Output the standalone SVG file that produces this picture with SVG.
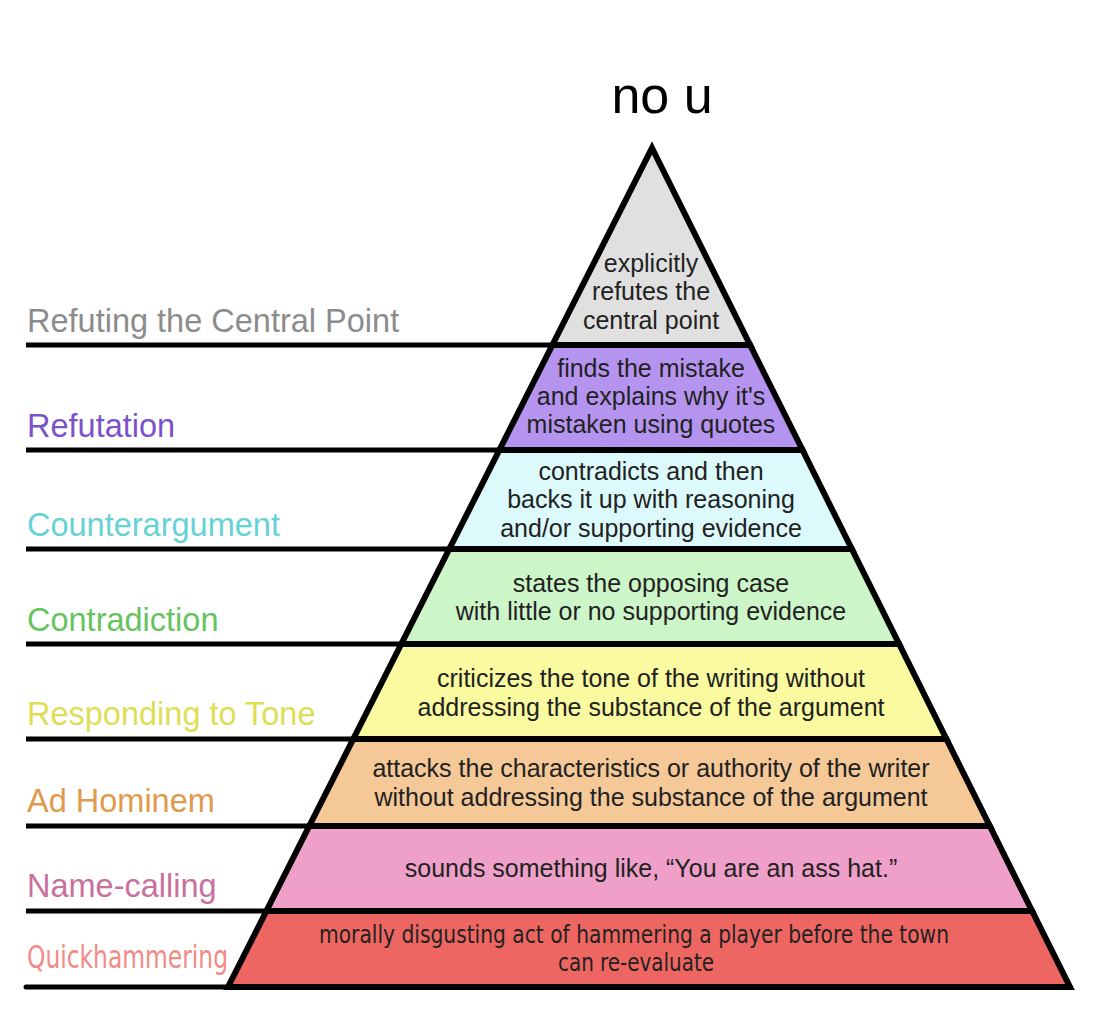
<svg xmlns="http://www.w3.org/2000/svg" width="1103" height="1017" viewBox="0 0 1103 1017">
<style>
.band{stroke:#000;stroke-width:6;stroke-linejoin:miter}
.t{font-family:"Liberation Sans",Arial,sans-serif;font-size:25px;fill:#222;text-anchor:middle}
.lbl{font-family:"Liberation Sans",Arial,sans-serif;font-size:32.5px}
.cond{font-family:"DejaVu Sans Condensed","DejaVu Sans",sans-serif;font-stretch:condensed}
.lead{stroke:#000;stroke-width:5;fill:none}
</style>
<rect width="1103" height="1017" fill="#fff"/>
<text x="662" y="113" font-family="Liberation Sans,Arial,sans-serif" font-size="52" fill="#000" text-anchor="middle">no u</text>

<g id="connectors">
<line class="lead" x1="26" y1="345" x2="552" y2="345"/>
<line class="lead" x1="26" y1="450" x2="499" y2="450"/>
<line class="lead" x1="26" y1="549" x2="449" y2="549"/>
<line class="lead" x1="26" y1="644" x2="401" y2="644"/>
<line class="lead" x1="26" y1="739" x2="353" y2="739"/>
<line class="lead" x1="26" y1="826" x2="309" y2="826"/>
<line class="lead" x1="26" y1="911" x2="266" y2="911"/>
<line class="lead" x1="26" y1="987" x2="228" y2="987" stroke-linecap="round"/>
</g>

<g id="level-refuting-central-point">
<polygon class="band" fill="#e0e0e0" points="652,148 750.1,345 552.4,345"/>
<text class="t" x="651" y="272">explicitly</text>
<text class="t" x="651" y="300">refutes the</text>
<text class="t" x="651" y="329">central point</text>
<text class="lbl" x="27" y="332" fill="#8c8c8c">Refuting the Central Point</text>
</g>

<g id="level-refutation">
<polygon class="band" fill="#b594f0" points="552.4,345 750.1,345 802.5,450 499.4,450"/>
<text class="t" x="651" y="377">finds the mistake</text>
<text class="t" x="651" y="405">and explains why it's</text>
<text class="t" x="651" y="433">mistaken using quotes</text>
<text class="lbl" x="27" y="437" fill="#7b52c9">Refutation</text>
</g>

<g id="level-counterargument">
<polygon class="band" fill="#dcf9fb" points="499.4,450 802.5,450 851.8,549 449.3,549"/>
<text class="t" x="651" y="480">contradicts and then</text>
<text class="t" x="651" y="508">backs it up with reasoning</text>
<text class="t" x="651" y="537">and/or supporting evidence</text>
<text class="lbl" x="27" y="536" fill="#66d2d6">Counterargument</text>
</g>

<g id="level-contradiction">
<polygon class="band" fill="#ccf5c8" points="449.3,549 851.8,549 899.1,644 401.3,644"/>
<text class="t" x="651" y="592">states the opposing case</text>
<text class="t" x="651" y="620">with little or no supporting evidence</text>
<text class="lbl" x="27" y="631" fill="#66c35e">Contradiction</text>
</g>

<g id="level-responding-to-tone">
<polygon class="band" fill="#fafaa0" points="401.3,644 899.1,644 946.4,739 353.3,739"/>
<text class="t" x="651" y="687">criticizes the tone of the writing without</text>
<text class="t" x="651" y="716">addressing the substance of the argument</text>
<text class="lbl" x="27" y="725" fill="#dede55">Responding to Tone</text>
</g>

<g id="level-ad-hominem">
<polygon class="band" fill="#f5c898" points="353.3,739 946.4,739 989.8,826 309.3,826"/>
<text class="t" x="651" y="777">attacks the characteristics or authority of the writer</text>
<text class="t" x="651" y="806">without addressing the substance of the argument</text>
<text class="lbl" x="27" y="812" fill="#e09a4e">Ad Hominem</text>
</g>

<g id="level-name-calling">
<polygon class="band" fill="#efa0c9" points="309.3,826 989.8,826 1032.1,911 266.4,911"/>
<text class="t" x="651" y="877">sounds something like, “You are an ass hat.”</text>
<text class="lbl" x="27" y="897" fill="#c8709e">Name-calling</text>
</g>

<g id="level-quickhammering">
<polygon class="band" fill="#ee6661" points="266.4,911 1032.1,911 1070,987 228,987"/>
<text class="t cond" x="634" y="943" font-size="21" fill="#111" textLength="630" lengthAdjust="spacingAndGlyphs">morally disgusting act of hammering a player before the town</text>
<text class="t cond" x="636" y="971" font-size="21" fill="#111" textLength="156" lengthAdjust="spacingAndGlyphs">can re-evaluate</text>
<text class="lbl cond" x="27" y="968" font-size="30" fill="#f28a86" textLength="201" lengthAdjust="spacingAndGlyphs">Quickhammering</text>
</g>
</svg>
